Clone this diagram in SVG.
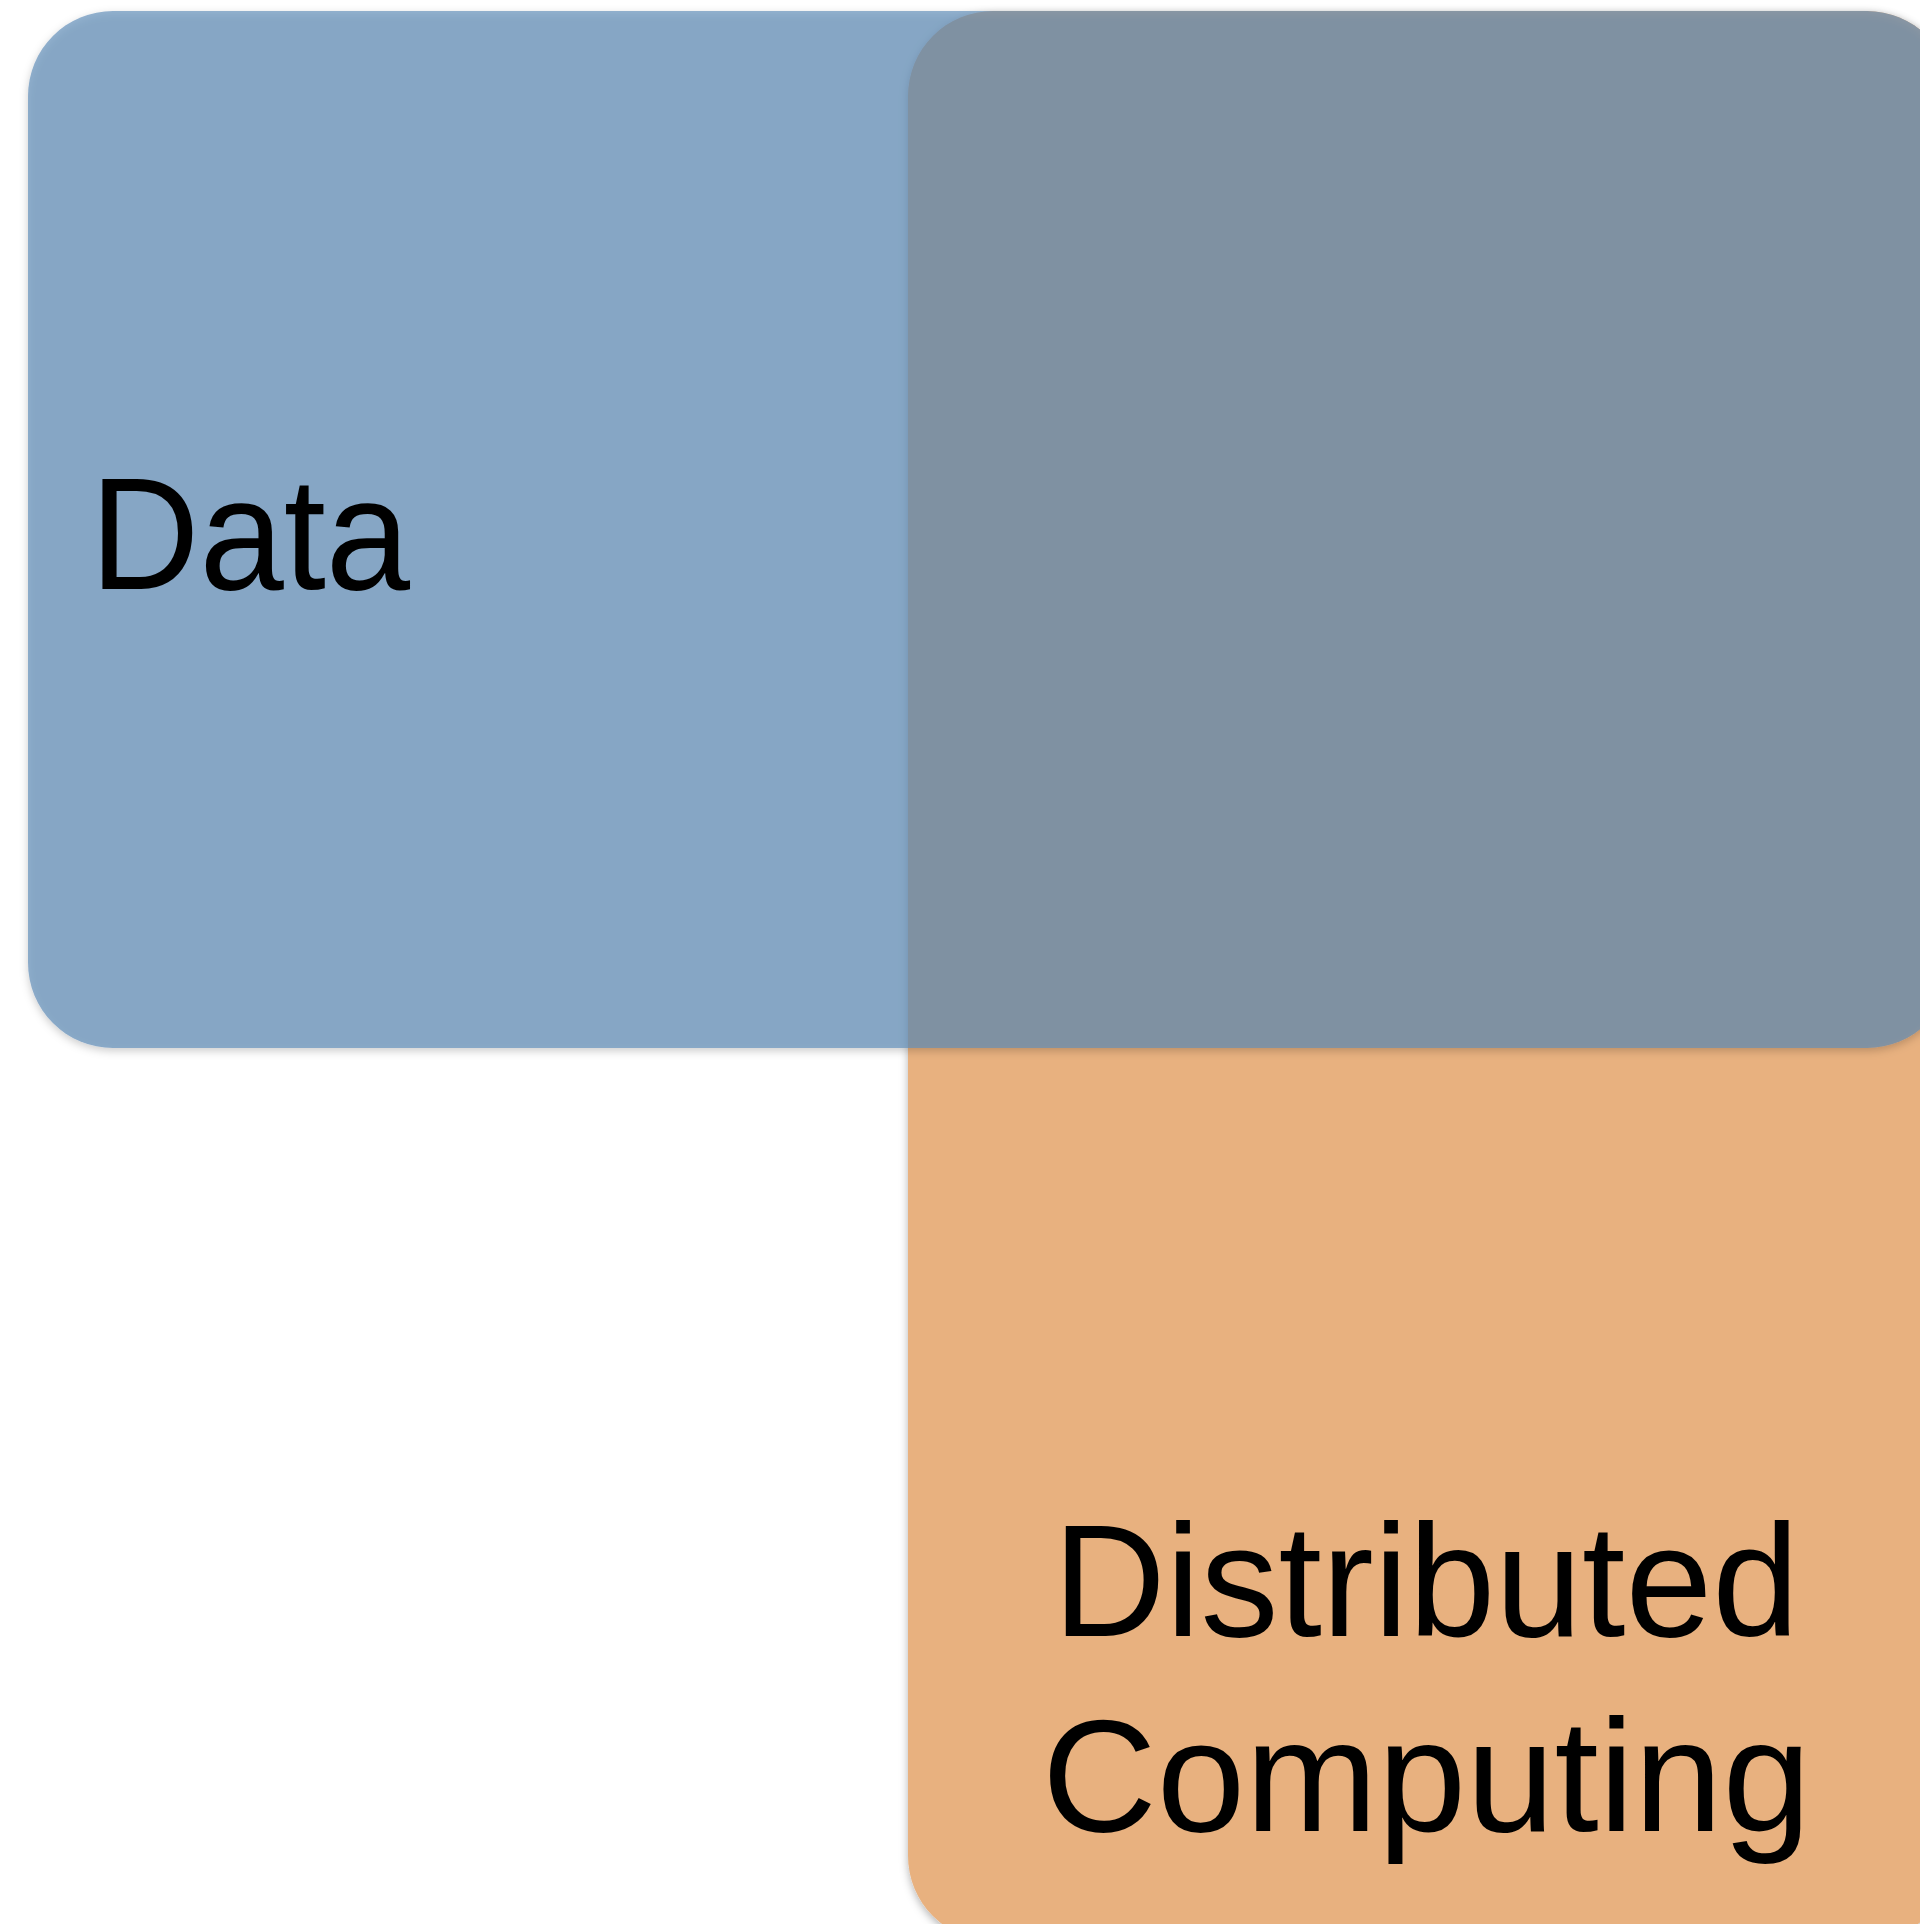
<svg xmlns="http://www.w3.org/2000/svg" width="1920" height="1924" viewBox="0 0 1920 1924">
  <defs>
    <filter id="soft-shadow" x="-5%" y="-5%" width="110%" height="110%">
      <feDropShadow dx="0" dy="3" stdDeviation="4" flood-color="#000" flood-opacity="0.3"/>
    </filter>
  </defs>
  <style>
    .label { font-family: "Liberation Sans", Arial, Helvetica, sans-serif; font-size: 159px; fill: #000; }
    .computing { fill: #e8b17f; }
    .data { fill: #5d8ab6; fill-opacity: 0.66; }
  </style>
  <rect width="1920" height="1924" fill="#fff"/>

  <!-- Distributed Computing region (beneath) -->
  <g id="distributed-computing">
    <rect class="computing" x="908" y="11" width="1044" height="1930" rx="85" ry="85" filter="url(#soft-shadow)"/>
    <text class="label" x="1053" y="1636" textLength="746" lengthAdjust="spacingAndGlyphs">Distributed</text>
    <text class="label" x="1042" y="1831" textLength="769" lengthAdjust="spacingAndGlyphs">Computing</text>
  </g>

  <!-- Data region (translucent, on top) -->
  <g id="data">
    <rect class="data" x="28" y="11" width="1924" height="1037" rx="85" ry="85" filter="url(#soft-shadow)"/>
    <text class="label" x="90" y="589" textLength="320" lengthAdjust="spacingAndGlyphs">Data</text>
  </g>

  <g id="connectors"/>
</svg>
